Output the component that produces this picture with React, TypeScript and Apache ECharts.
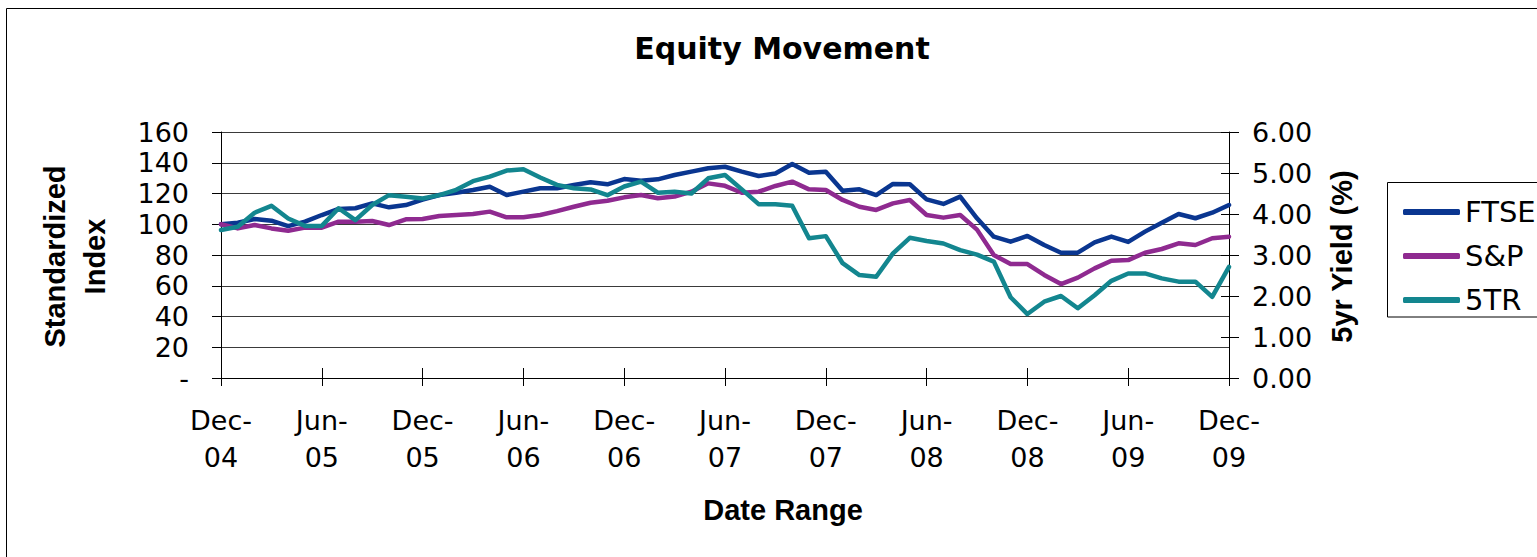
import React, { useEffect, useRef } from "react";
import * as echarts from "echarts";

const categories = [
  "Dec-04",
  "Jan-05", "Feb-05", "Mar-05", "Apr-05", "May-05", "Jun-05", "Jul-05", "Aug-05", "Sep-05", "Oct-05", "Nov-05", "Dec-05",
  "Jan-06", "Feb-06", "Mar-06", "Apr-06", "May-06", "Jun-06", "Jul-06", "Aug-06", "Sep-06", "Oct-06", "Nov-06", "Dec-06",
  "Jan-07", "Feb-07", "Mar-07", "Apr-07", "May-07", "Jun-07", "Jul-07", "Aug-07", "Sep-07", "Oct-07", "Nov-07", "Dec-07",
  "Jan-08", "Feb-08", "Mar-08", "Apr-08", "May-08", "Jun-08", "Jul-08", "Aug-08", "Sep-08", "Oct-08", "Nov-08", "Dec-08",
  "Jan-09", "Feb-09", "Mar-09", "Apr-09", "May-09", "Jun-09", "Jul-09", "Aug-09", "Sep-09", "Oct-09", "Nov-09", "Dec-09",
];

const ftse = [
  100, 101, 103.4, 102.3, 98.8, 101.7, 106, 110, 110.4, 113.6, 111, 112.5, 116, 119, 120.5,
  122.3, 124.4, 119, 121.2, 123.4, 123.4, 125.5, 127.3, 126, 129.4, 128.3, 129.2, 132, 134.2, 136.4,
  137.4, 134.2, 131.4, 133, 139.2, 133.5, 134.2, 121.8, 122.7, 119, 126.2, 126, 116.2, 113.2, 118,
  103.9, 91.9, 88.7, 92.4, 86.5, 81.5, 81.5, 88.2, 92, 88.5, 95.2, 101, 106.7, 103.9, 107.5, 112.5,
];

const sp = [
  100, 97.3, 99.5, 97.3, 95.8, 97.8, 97.8, 101.7, 101.7, 102.1, 99.5, 103.2, 103.4, 105.4, 106,
  106.7, 108.2, 104.5, 104.5, 106, 108.5, 111.4, 114, 115.3, 117.5, 119, 116.9, 118, 121.2, 126.6,
  125, 120.5, 121.2, 124.9, 127.7, 122.7, 122.3, 115.8, 111.4, 109.3, 113.6, 115.8, 106, 104.3, 106,
  96.5, 80, 74.1, 74.1, 67, 61.1, 65.3, 71.3, 76.3, 76.7, 81.5, 83.9, 87.6, 86.5, 90.9, 91.9,
];

const fiveTR = [
  3.61, 3.69, 4.03, 4.2, 3.89, 3.71, 3.71, 4.14, 3.85, 4.22, 4.46, 4.42, 4.38, 4.46, 4.59,
  4.8, 4.91, 5.06, 5.09, 4.89, 4.71, 4.63, 4.6, 4.46, 4.67, 4.79, 4.52, 4.54, 4.5, 4.87,
  4.95, 4.6, 4.24, 4.24, 4.2, 3.41, 3.46, 2.8, 2.51, 2.47, 3.04, 3.42, 3.34, 3.28, 3.12,
  3.01, 2.84, 1.97, 1.56, 1.86, 2.0, 1.7, 2.02, 2.37, 2.55, 2.55, 2.43, 2.35, 2.35, 1.98, 2.71,
];

const seriesNames = ["FTSE", "S&P", "5TR"];
const seriesColors = ["#0A3690", "#8F2A90", "#13868F"];

const leftAxis = { min: 0, max: 160, interval: 20 };
const rightAxis = { min: 0, max: 6, interval: 1 };

const LABEL_FONT = "DejaVu Sans";
const TITLE_FONT = "Liberation Sans";

export default function App() {
  const ref = useRef<HTMLDivElement>(null);

  useEffect(() => {
    if (!ref.current) return;
    const chart = echarts.init(ref.current, null, { renderer: "svg" });
    const datasets = [ftse, sp, fiveTR];

    chart.setOption({
      animation: false,
      backgroundColor: "#ffffff",
      grid: { left: 221, right: 308, top: 132, bottom: 179, containLabel: false },
      legend: {
        orient: "vertical",
        left: 1398,
        top: 192,
        itemWidth: 57,
        itemHeight: 6,
        itemGap: 14,
        icon: "roundRect",
        data: seriesNames,
        textStyle: { fontFamily: LABEL_FONT, fontSize: 29, lineHeight: 30, color: "#000" },
        z: 10,
      },
      graphic: [
        {
          type: "rect",
          silent: true,
          z: 0,
          shape: { x: 6.5, y: 8.5, width: 1600, height: 600 },
          style: { fill: "none", stroke: "#000", lineWidth: 1 },
        },
        {
          type: "rect",
          silent: true,
          z: 1,
          shape: { x: 1387.5, y: 182.5, width: 200, height: 134.5 },
          style: { fill: "#fff", stroke: "#000", lineWidth: 1 },
        },
        {
          type: "text",
          silent: true,
          x: 782,
          y: 48,
          style: {
            text: "Equity Movement",
            fontFamily: LABEL_FONT,
            fontWeight: "bold",
            fontSize: 30,
            fill: "#000",
            textAlign: "center",
            textVerticalAlign: "middle",
            align: "center",
            verticalAlign: "middle",
          },
        },
        {
          type: "text",
          silent: true,
          x: 783,
          y: 510,
          style: {
            text: "Date Range",
            fontFamily: TITLE_FONT,
            fontWeight: "bold",
            fontSize: 29,
            fill: "#000",
            textAlign: "center",
            textVerticalAlign: "middle",
            align: "center",
            verticalAlign: "middle",
          },
        },
        {
          type: "text",
          silent: true,
          x: 75,
          y: 256.5,
          rotation: Math.PI / 2,
          style: {
            text: "Standardized\nIndex",
            fontFamily: TITLE_FONT,
            fontWeight: "bold",
            fontSize: 29,
            lineHeight: 39.5,
            fill: "#000",
            textAlign: "center",
            textVerticalAlign: "middle",
            align: "center",
            verticalAlign: "middle",
          },
        },
        {
          type: "text",
          silent: true,
          x: 1342,
          y: 256.5,
          rotation: Math.PI / 2,
          style: {
            text: "5yr Yield (%)",
            fontFamily: TITLE_FONT,
            fontWeight: "bold",
            fontSize: 29,
            fill: "#000",
            textAlign: "center",
            textVerticalAlign: "middle",
            align: "center",
            verticalAlign: "middle",
          },
        },
      ],
      xAxis: [
        {
          type: "category",
          data: categories,
          boundaryGap: false,
          position: "bottom",
          axisLine: { show: true, lineStyle: { color: "#000", width: 1 } },
          axisTick: { show: true, interval: 5, length: 8, lineStyle: { color: "#000", width: 1 } },
          axisLabel: {
            interval: 5,
            formatter: (v: string) => v.replace("-", "-\n"),
            fontFamily: LABEL_FONT,
            fontSize: 27,
            lineHeight: 37,
            color: "#000",
            margin: 24,
          },
          splitLine: { show: false },
        },
        {
          type: "category",
          data: categories,
          boundaryGap: false,
          position: "bottom",
          offset: 0,
          axisLine: { show: false },
          axisTick: { show: true, inside: true, interval: 5, length: 10, lineStyle: { color: "#000", width: 1 } },
          axisLabel: { show: false },
          splitLine: { show: false },
        },
      ],
      yAxis: [
        {
          type: "value",
          position: "left",
          min: leftAxis.min,
          max: leftAxis.max,
          interval: leftAxis.interval,
          axisLine: { show: true, lineStyle: { color: "#000", width: 1 } },
          axisTick: { show: true, length: 9, lineStyle: { color: "#000", width: 1 } },
          axisLabel: {
            formatter: (v: number) => (v === 0 ? "-" : String(v)),
            fontFamily: LABEL_FONT,
            fontSize: 27,
            color: "#000",
            margin: 32,
          },
          splitLine: { show: true, lineStyle: { color: "#3a3a3a", width: 1 } },
        },
        {
          type: "value",
          position: "right",
          min: rightAxis.min,
          max: rightAxis.max,
          interval: rightAxis.interval,
          axisLine: { show: true, lineStyle: { color: "#000", width: 1 } },
          axisTick: { show: true, length: 10, lineStyle: { color: "#000", width: 1 } },
          axisLabel: {
            formatter: (v: number) => v.toFixed(2),
            fontFamily: LABEL_FONT,
            fontSize: 27,
            color: "#000",
            margin: 23,
          },
          splitLine: { show: false },
        },
        {
          type: "value",
          position: "right",
          offset: 0,
          min: rightAxis.min,
          max: rightAxis.max,
          interval: rightAxis.interval,
          axisLine: { show: false },
          axisTick: { show: true, inside: true, length: 8, lineStyle: { color: "#000", width: 1 } },
          axisLabel: { show: false },
          splitLine: { show: false },
        },
      ],
      series: seriesNames.map((name, i) => ({
        name,
        type: "line",
        xAxisIndex: 0,
        yAxisIndex: i === 2 ? 1 : 0,
        data: datasets[i],
        showSymbol: false,
        symbol: "none",
        smooth: false,
        z: 2 + i,
        lineStyle: { color: seriesColors[i], width: 4.5, cap: "round", join: "round" },
        itemStyle: { color: seriesColors[i] },
      })),
    });

    return () => chart.dispose();
  }, []);

  return (
    <div
      ref={ref}
      style={{ position: "absolute", left: 0, top: 0, width: 1537, height: 557, background: "#fff" }}
    />
  );
}
